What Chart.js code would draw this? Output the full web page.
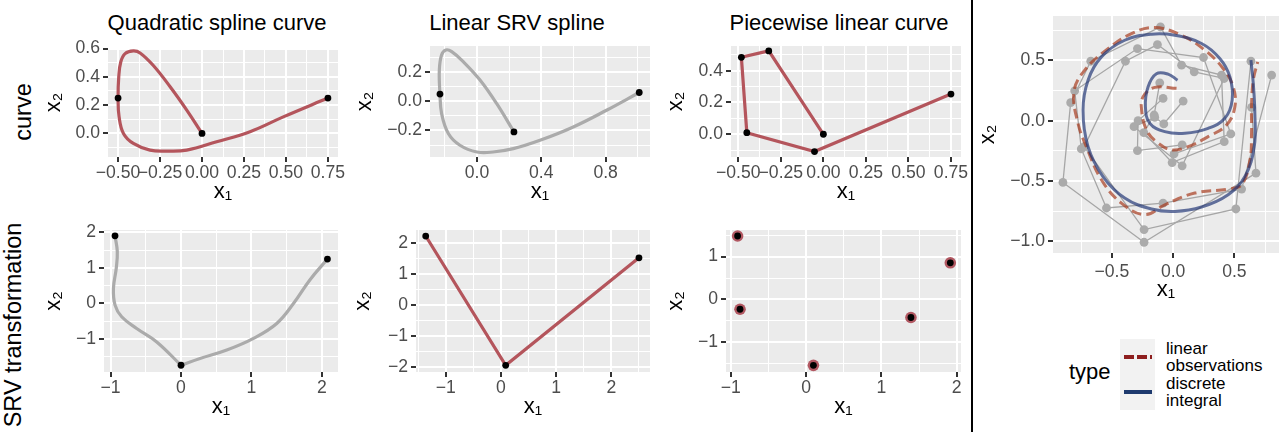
<!DOCTYPE html>
<html>
<head>
<meta charset="utf-8">
<script src="https://cdn.jsdelivr.net/npm/chart.js@4.4.0/dist/chart.umd.min.js"></script>
<style>
  html, body { margin: 0; padding: 0; background: #fff; overflow: hidden; width: 1280px; height: 432px; }
  body { position: relative; font-family: 'Liberation Sans', Arial, sans-serif; color: #000; }
  canvas { position: absolute; }
  .col-title { position: absolute; top: 12px; font-size: 22px; line-height: 22px; white-space: nowrap; transform: translateX(-50%); }
  .row-label { position: absolute; font-size: 23.5px; line-height: 24px; white-space: nowrap; transform: translate(-50%, -50%) rotate(-90deg); }
  #divider { position: absolute; left: 971px; top: 0; width: 2px; height: 432px; background: #000; }
  #legend-title { position: absolute; left: 1069px; top: 361px; font-size: 22px; line-height: 22px; }
  #legend-keys { position: absolute; left: 1120px; top: 339px; width: 35px; height: 71px; background: #F2F2F2; }
  .key-line { position: absolute; left: 4px; width: 28px; height: 3.5px; }
  .key-label { position: absolute; left: 1166px; font-size: 17px; line-height: 17px; white-space: nowrap; }
</style>
</head>
<body>
<div class="col-title" style="left:217px">Quadratic spline curve</div>
<div class="col-title" style="left:517px">Linear SRV spline</div>
<div class="col-title" style="left:839px">Piecewise linear curve</div>
<div class="row-label" style="left:23px; top:112px">curve</div>
<div class="row-label" style="left:13px; top:325px">SRV transformation</div>
<div id="divider"></div>
<div id="legend-title">type</div>
<div id="legend-keys">
  <div class="key-line" style="top:16px; background: repeating-linear-gradient(90deg, #8E1F1F 0 10px, transparent 10px 13px);"></div>
  <div class="key-line" style="top:51px; background:#1E3A6E;"></div>
</div>
<div class="key-label" style="top:340px">linear<br>observations</div>
<div class="key-label" style="top:375px">discrete<br>integral</div>

<script>
// --- data ---

// quadratic spline curve (top left) and its knots
const quadCurve = [[0, 0], [-0.091, 0.165], [-0.19, 0.33], [-0.29, 0.48], [-0.369, 0.569], [-0.409, 0.583],
  [-0.458, 0.564], [-0.484, 0.505], [-0.496, 0.40], [-0.5, 0.25], [-0.494, 0.117], [-0.468, 0.0],
  [-0.409, -0.071], [-0.31, -0.118], [-0.21, -0.125], [-0.091, -0.118], [0.087, -0.059], [0.286, 0.012],
  [0.484, 0.117], [0.75, 0.25]];
const quadKnots = [[0, 0], [-0.5, 0.25], [0.75, 0.25]];

// linear SRV spline (top middle)
const srvSplineCurve = [[0.23, -0.21], [0.122, -0.016], [0.019, 0.144], [-0.085, 0.269], [-0.157, 0.338],
  [-0.193, 0.349], [-0.22, 0.315], [-0.234, 0.212], [-0.23, 0.048], [-0.22, -0.084], [-0.178, -0.221],
  [-0.106, -0.301], [0.0, -0.347], [0.10, -0.347], [0.226, -0.324], [0.392, -0.267], [0.599, -0.176],
  [0.806, -0.062], [1.009, 0.059]];
const srvSplineKnots = [[0.23, -0.21], [-0.23, 0.048], [1.009, 0.059]];

// piecewise linear curve (top right)
const polyCurve = [[0, 0], [-0.321, 0.524], [-0.482, 0.484], [-0.45, 0.01], [-0.052, -0.109], [0.75, 0.253]];

// SRV transformations (bottom row)
const quadSrvLeft = [[-0.9375, 1.906], [-0.905, 1.46], [-0.92, 0.99], [-0.96, 0.42], [-0.937, -0.05],
  [-0.843, -0.38], [-0.63, -0.71], [-0.345, -1.09], [0, -1.75]];
const quadSrvRight = [[0, -1.75], [0.27, -1.56], [0.65, -1.32], [1.03, -0.99], [1.36, -0.57], [1.6, 0.0],
  [1.83, 0.66], [2.08, 1.25]];
const quadSrvKnots = [[-0.9375, 1.906], [0, -1.75], [2.08, 1.25]];
const srvSplineSrv = [[-1.364, 2.226], [0.085, -1.935], [2.5, 1.526]];
const polySrv = [[-0.91, 1.48], [-0.878, -0.227], [0.097, -1.535], [1.392, -0.42], [1.915, 0.855]];

// spiral panel (right): observations and the two mean estimates
const obsCurve1 = [[-0.109, 0.314], [-0.155, 0.047], [-0.239, -0.099], [-0.008, -0.347], [0.417, -0.174],
  [0.395, 0.378], [0.069, 0.46], [-0.103, 0.777], [-0.672, 0.493], [-0.836, 0.149], [-0.899, -0.512],
  [-0.237, -1.008], [0.676, -0.435], [0.64, 0.111]];
const obsCurve2 = [[-0.082, 0.185], [-0.286, 0.0], [-0.291, -0.248], [0.074, -0.201], [0.008, -0.275],
  [0.471, -0.11], [0.248, 0.524], [-0.291, 0.598], [-0.803, 0.248], [-0.749, -0.234], [-0.544, -0.724],
  [-0.082, -0.683], [0.559, -0.567], [0.804, 0.378]];
const obsCurve3 = [[0.082, 0.163], [-0.076, -0.027], [-0.15, 0.028], [-0.319, -0.05], [0.074, -0.374],
  [0.417, 0.35], [0.172, 0.405], [-0.128, 0.631], [-0.389, 0.493], [-0.725, -0.215], [-0.237, -0.903],
  [0.512, -0.732], [0.635, 0.493]];
const linearMean = [[0.028, 0.268], [-0.15, 0.276], [-0.245, 0.198], [-0.257, 0.088], [-0.217, -0.077],
  [-0.136, -0.174], [-0.013, -0.242], [0.123, -0.215], [0.286, -0.132], [0.436, -0.036], [0.504, 0.116],
  [0.49, 0.281], [0.408, 0.433], [0.259, 0.584], [0.069, 0.708], [-0.15, 0.772], [-0.34, 0.722],
  [-0.531, 0.598], [-0.721, 0.419], [-0.809, 0.24], [-0.776, -0.022], [-0.708, -0.215], [-0.585, -0.49],
  [-0.422, -0.683], [-0.231, -0.779], [-0.068, -0.697], [0.177, -0.6], [0.449, -0.567], [0.559, -0.531],
  [0.627, -0.325], [0.64, -0.104], [0.64, 0.116], [0.654, 0.336], [0.69, 0.488]];
const integralMean = [[0.036, 0.336], [-0.041, 0.386], [-0.136, 0.39], [-0.204, 0.281], [-0.226, 0.116],
  [-0.19, -0.022], [-0.068, -0.091], [0.096, -0.104], [0.286, -0.063], [0.422, 0.02], [0.482, 0.171],
  [0.463, 0.364], [0.381, 0.516], [0.232, 0.64], [0.014, 0.708], [-0.176, 0.717], [-0.395, 0.667],
  [-0.585, 0.529], [-0.694, 0.336], [-0.735, 0.088], [-0.694, -0.215], [-0.572, -0.463], [-0.395, -0.641],
  [-0.176, -0.732], [0.014, -0.752], [0.232, -0.716], [0.449, -0.614], [0.586, -0.463], [0.662, -0.215],
  [0.667, 0.061], [0.654, 0.309], [0.635, 0.502]];

// axis ticks (major / minor) and ranges
const quadX = { min: -0.56, max: 0.81, major: [-0.5, -0.25, 0, 0.25, 0.5, 0.75], minor: [-0.375, -0.125, 0.125, 0.375, 0.625], dec: 2 };
const quadY = { min: -0.167, max: 0.604, major: [0, 0.2, 0.4, 0.6], minor: [-0.1, 0.1, 0.3, 0.5], dec: 1 };
const splineX = { min: -0.292, max: 1.076, major: [0, 0.4, 0.8], minor: [-0.2, 0.2, 0.6, 1.0], dec: 1 };
const splineY = { min: -0.381, max: 0.376, major: [-0.2, 0, 0.2], minor: [-0.3, -0.1, 0.1, 0.3], dec: 1 };
const polyX = { min: -0.543, max: 0.809, major: [-0.5, -0.25, 0, 0.25, 0.5, 0.75], minor: [-0.375, -0.125, 0.125, 0.375, 0.625], dec: 2 };
const polyY = { min: -0.143, max: 0.555, major: [0, 0.2, 0.4], minor: [-0.1, 0.1, 0.3, 0.5], dec: 1 };
const quadSrvX = { min: -1.094, max: 2.23, major: [-1, 0, 1, 2], minor: [-0.5, 0.5, 1.5], dec: 0 };
const quadSrvY = { min: -1.94, max: 2.07, major: [-1, 0, 1, 2], minor: [-1.5, -0.5, 0.5, 1.5], dec: 0 };
const splineSrvX = { min: -1.54, max: 2.70, major: [-1, 0, 1, 2], minor: [-1.5, -0.5, 0.5, 1.5, 2.5], dec: 0 };
const splineSrvY = { min: -2.15, max: 2.42, major: [-2, -1, 0, 1, 2], minor: [-1.5, -0.5, 0.5, 1.5], dec: 0 };
const polySrvX = { min: -1.064, max: 2.057, major: [-1, 0, 1, 2], minor: [-0.5, 0.5, 1.5], dec: 0 };
const polySrvY = { min: -1.69, max: 1.62, major: [-1, 0, 1], minor: [-1.5, -0.5, 0.5, 1.5], dec: 0 };
const spiralX = { min: -0.98, max: 0.864, major: [-0.5, 0, 0.5], minor: [-0.75, -0.25, 0.25, 0.75], dec: 1, pad: 4 };
const spiralY = { min: -1.097, max: 0.868, major: [-1, -0.5, 0, 0.5], minor: [-0.75, -0.25, 0.25, 0.75], dec: 1 };

// --- helpers ---
const CURVE_RED = '#B4555C';
const CURVE_GREY = '#ABABAB';
const pts = arr => arr.map(([x, y]) => ({ x, y }));

Chart.defaults.font.family = "'Liberation Sans', Arial, sans-serif";

// grey panel background, like ggplot's theme_gray
const panelBg = {
  id: 'panelBg',
  beforeDraw(chart) {
    const { ctx, chartArea: a } = chart;
    ctx.save();
    ctx.fillStyle = '#EBEBEB';
    ctx.fillRect(a.left, a.top, a.right - a.left, a.bottom - a.top);
    ctx.restore();
  }
};

const fmt = (v, dec) => v.toFixed(dec).replace('-', '\u2212');

function axis(cfg, pos, size, titleText) {
  const isMajor = v => cfg.major.some(m => Math.abs(m - v) < 1e-9);
  const all = cfg.major.concat(cfg.minor).filter(v => v >= cfg.min && v <= cfg.max).sort((a, b) => a - b);
  return {
    type: 'linear', position: pos, min: cfg.min, max: cfg.max,
    afterBuildTicks: s => { s.ticks = all.map(v => ({ value: v })); },
    afterFit: s => { if (pos === 'left') s.width = size; else s.height = size; },
    ticks: {
      autoSkip: false, maxRotation: 0, minRotation: 0, padding: cfg.pad !== undefined ? cfg.pad : (pos === 'left' ? 3 : 1),
      color: '#4D4D4D', font: { size: 17.6 },
      callback: v => isMajor(v) ? fmt(v, cfg.dec) : ''
    },
    grid: {
      color: '#FFFFFF',
      lineWidth: c => (c.tick && isMajor(c.tick.value)) ? 2 : 1,
      drawTicks: true, tickLength: 5, tickWidth: 2,
      tickColor: c => (c.tick && isMajor(c.tick.value)) ? '#333333' : 'rgba(0,0,0,0)'
    },
    border: { display: false },
    title: {
      display: true, text: titleText, color: '#000', font: { size: 22 },
      padding: pos === 'left' ? { top: 0, bottom: 0 } : { top: 0, bottom: 2 }
    }
  };
}

function makePanel(box, xCfg, yCfg, datasets) {
  const padTop = 14, padRight = box.padRight;
  const w = box.yw + (box.r - box.l) + padRight;
  const h = padTop + (box.b - box.t) + box.xh;
  const cv = document.createElement('canvas');
  cv.width = w; cv.height = h;
  cv.style.left = (box.l - box.yw) + 'px';
  cv.style.top = (box.t - padTop) + 'px';
  cv.style.width = w + 'px'; cv.style.height = h + 'px';
  document.body.appendChild(cv);
  new Chart(cv, {
    type: 'scatter',
    data: { datasets },
    options: {
      responsive: false, animation: false, devicePixelRatio: 1,
      layout: { autoPadding: false, padding: { top: padTop, right: padRight, left: 0, bottom: 0 } },
      plugins: { legend: { display: false }, tooltip: { enabled: false } },
      scales: { x: axis(xCfg, 'bottom', box.xh, 'x\u2081'), y: axis(yCfg, 'left', box.yw, 'x\u2082') }
    },
    plugins: [panelBg]
  });
}

const curve = (arr, color, opts = {}) => Object.assign({
  data: pts(arr), showLine: true, borderColor: color, borderWidth: 3.2,
  pointRadius: 0, tension: 0.4, fill: false, order: 2
}, opts);
const dots = (arr, color, r, order) => ({
  data: pts(arr), showLine: false, pointRadius: r, pointBackgroundColor: color,
  pointBorderWidth: 0, pointBorderColor: color, order
});

// --- top row ---
makePanel({ l: 108, r: 338, t: 48, b: 157, yw: 67, xh: 50, padRight: 24 }, quadX, quadY,
  [curve(quadCurve, CURVE_RED), dots(quadKnots, '#000', 3.4, 0)]);
makePanel({ l: 430, r: 650, t: 46, b: 157, yw: 78, xh: 50, padRight: 20 }, splineX, splineY,
  [curve(srvSplineCurve, CURVE_GREY), dots(srvSplineKnots, '#000', 3.4, 0)]);
makePanel({ l: 731, r: 961, t: 46, b: 157, yw: 68, xh: 50, padRight: 10 }, polyX, polyY,
  [curve(polyCurve, CURVE_RED, { tension: 0 }), dots(polyCurve, '#000', 3.4, 0)]);

// --- bottom row ---
makePanel({ l: 104, r: 338, t: 230, b: 372, yw: 63, xh: 50, padRight: 24 }, quadSrvX, quadSrvY,
  [curve(quadSrvLeft, CURVE_GREY), curve(quadSrvRight, CURVE_GREY), dots(quadSrvKnots, '#000', 3.4, 0)]);
makePanel({ l: 416, r: 650, t: 230, b: 372, yw: 66, xh: 50, padRight: 20 }, splineSrvX, splineSrvY,
  [curve(srvSplineSrv, CURVE_RED, { tension: 0 }), dots(srvSplineSrv, '#000', 3.4, 0)]);
makePanel({ l: 726, r: 961, t: 230, b: 372, yw: 63, xh: 50, padRight: 10 }, polySrvX, polySrvY,
  [dots(polySrv, '#B25862', 5.8, 1), dots(polySrv, '#000', 3.4, 0)]);

// --- spiral panel ---
const obsLine = arr => ({
  data: pts(arr), showLine: true, borderColor: '#A6A6A6', borderWidth: 1.3, tension: 0,
  pointRadius: 4.4, pointBackgroundColor: '#ABABAB', pointBorderWidth: 0, order: 3
});
makePanel({ l: 1053, r: 1279, t: 16, b: 253, yw: 78, xh: 52, padRight: 4 }, spiralX, spiralY, [
  obsLine(obsCurve1), obsLine(obsCurve2), obsLine(obsCurve3),
  curve(linearMean, 'rgba(165,55,25,0.68)', { borderWidth: 3, borderDash: [10, 5], order: 2 }),
  curve(integralMean, 'rgba(30,50,115,0.68)', { borderWidth: 3, order: 1 })
]);
</script>
</body>
</html>
